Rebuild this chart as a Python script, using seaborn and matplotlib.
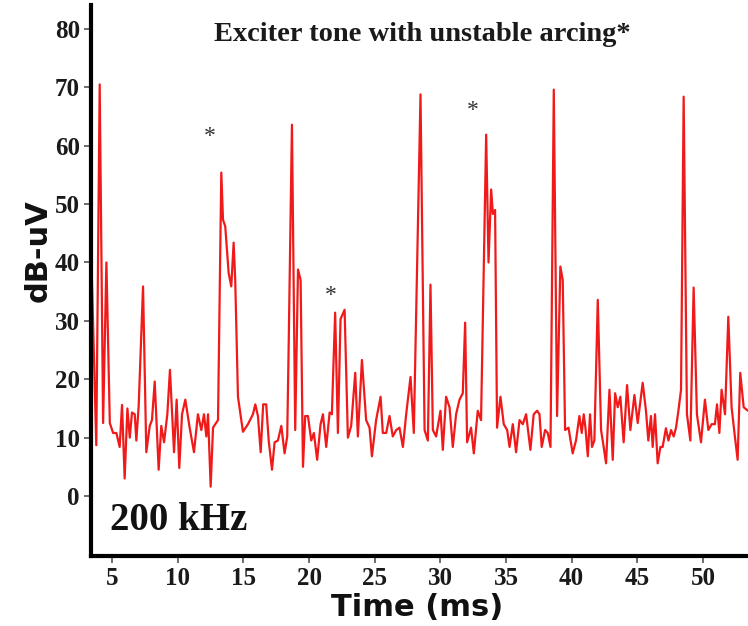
import matplotlib
matplotlib.use("Agg")
import matplotlib.pyplot as plt
import seaborn as sns
import pandas as pd

# Received level of the 200 kHz channel over time
time_ms = [
    3.40, 3.80, 4.06, 4.32, 4.57, 4.83, 5.08, 5.33, 5.58, 5.76, 5.96, 6.17, 6.35, 6.52,
    6.73, 6.85, 7.03, 7.36, 7.61, 7.87, 8.04, 8.25, 8.55, 8.75, 8.96, 9.21, 9.41, 9.72,
    9.92, 10.12, 10.33, 10.58, 10.91, 11.24, 11.54, 11.80, 12.00, 12.18, 12.31, 12.51,
    12.69, 12.86, 13.07, 13.32, 13.45, 13.62, 13.88, 14.08, 14.26, 14.38, 14.59, 14.97,
    15.35, 15.73, 15.91, 16.11, 16.32, 16.51, 16.74, 16.93, 17.18, 17.38, 17.63, 17.89,
    18.14, 18.34, 18.45, 18.70, 18.95, 19.16, 19.36, 19.54, 19.71, 19.92, 20.17, 20.37,
    20.62, 20.88, 21.06, 21.31, 21.57, 21.74, 21.99, 22.20, 22.40, 22.71, 22.96, 23.21,
    23.52, 23.72, 24.03, 24.35, 24.61, 24.79, 25.11, 25.45, 25.62, 25.88, 26.13, 26.38,
    26.64, 26.89, 27.15, 27.40, 27.73, 27.98, 28.49, 28.80, 29.05, 29.25, 29.43, 29.68,
    30.01, 30.19, 30.44, 30.70, 30.95, 31.20, 31.46, 31.71, 31.89, 32.04, 32.34, 32.55,
    32.85, 33.10, 33.49, 33.67, 33.87, 34.00, 34.17, 34.32, 34.58, 34.83, 35.09, 35.27,
    35.52, 35.77, 36.03, 36.28, 36.53, 36.86, 37.11, 37.37, 37.55, 37.72, 37.98, 38.18,
    38.39, 38.64, 38.89, 39.14, 39.32, 39.50, 39.76, 40.08, 40.33, 40.59, 40.77, 40.92,
    41.05, 41.23, 41.40, 41.55, 41.73, 41.99, 42.24, 42.44, 42.62, 42.88, 43.13, 43.31,
    43.51, 43.71, 43.96, 44.22, 44.47, 44.78, 45.03, 45.41, 45.66, 45.84, 46.04, 46.17,
    46.35, 46.55, 46.76, 46.93, 47.18, 47.37, 47.57, 47.77, 47.95, 48.13, 48.33, 48.53,
    48.78, 49.04, 49.29, 49.54, 49.85, 50.15, 50.41, 50.66, 50.91, 51.07, 51.25, 51.42,
    51.68, 51.93, 52.18, 52.43, 52.64, 52.84, 53.10, 53.43,
]
level_dbuv = [
    43.0, 8.7, 70.5, 12.5, 40.0, 12.5, 10.8, 10.8, 8.4, 15.6, 3.0, 15.0, 10.0, 14.3,
    14.0, 9.5, 15.5, 35.9, 7.5, 12.0, 13.0, 19.6, 4.5, 12.0, 9.2, 14.0, 21.6, 7.5,
    16.5, 4.8, 14.0, 16.5, 11.7, 7.5, 14.0, 11.3, 14.0, 10.2, 14.0, 1.6,
    11.7, 12.3, 13.0, 55.4, 47.3, 46.2, 38.2, 35.9, 43.4, 37.0, 17.0, 11.0,
    12.3, 14.0, 15.7, 13.7, 7.5, 15.7, 15.7, 9.5, 4.5, 9.2, 9.5, 12.0,
    7.3, 10.2, 25.6, 63.6, 11.3, 38.8, 37.0, 5.0, 13.7, 13.7, 9.5, 10.8,
    6.2, 12.3, 14.0, 8.4, 14.3, 14.0, 31.4, 10.8, 30.3, 31.9, 10.0, 12.0,
    21.1, 10.2, 23.3, 13.0, 11.7, 6.8, 13.0, 17.0, 10.8, 10.8, 13.7, 10.2,
    11.3, 11.7, 8.4, 14.0, 20.4, 10.8, 68.8, 11.3, 9.5, 36.2, 11.3, 10.2,
    14.6, 7.9, 17.0, 15.2, 8.4, 14.0, 16.5, 17.6, 29.7, 9.2, 11.7, 7.3,
    14.6, 13.0, 61.9, 40.0, 52.5, 48.3, 49.0, 11.7, 17.0, 12.3, 11.3, 8.4,
    12.3, 7.5, 13.0, 12.3, 14.0, 7.9, 14.0, 14.6, 14.0, 8.4, 11.3, 10.8,
    8.4, 69.6, 13.7, 39.3, 37.0, 11.3, 11.7, 7.3, 9.5, 13.7, 10.8, 14.0,
    11.7, 6.8, 14.0, 8.4, 9.5, 33.6, 11.3, 8.4, 5.6, 18.2, 6.2, 17.6,
    15.2, 17.0, 9.2, 19.0, 11.3, 17.3, 12.5, 19.4, 14.6, 9.5, 13.7, 8.4,
    14.0, 5.6, 8.4, 8.4, 11.6, 9.5, 11.3, 10.2, 11.7, 14.6, 18.2, 68.4,
    14.0, 9.5, 35.7, 14.0, 9.2, 16.5, 11.3, 12.3, 12.3, 15.7, 10.8, 18.2,
    14.0, 30.7, 15.2, 10.2, 6.2, 21.1, 15.2, 14.6,
]

# Arcing events flagged with an asterisk
arc_time_ms = [12.46, 21.68, 32.49]
arc_level_dbuv = [61.5, 34.4, 66.1]

x_ticks = [5, 10, 15, 20, 25, 30, 35, 40, 45, 50]
y_ticks = [0, 10, 20, 30, 40, 50, 60, 70, 80]

title_text = "Exciter tone with unstable arcing*"
freq_text = "200 kHz"

sns.set_style("ticks")
serif = ["Liberation Serif", "DejaVu Serif"]

df = pd.DataFrame({"t": time_ms, "db": level_dbuv})

fig = plt.figure(figsize=(7.48, 6.26), dpi=100)
ax = fig.add_axes([0.1217, 0.1118, 0.8783, 0.8802])

sns.lineplot(data=df, x="t", y="db", ax=ax, color="#f01a1a", linewidth=1.6,
             estimator=None, sort=False)

ax.set_xlim(3.40, 53.43)
ax.set_ylim(-10.28, 84.1)
ax.set_xticks(x_ticks)
ax.set_yticks(y_ticks)

for side in ("top", "right"):
    ax.spines[side].set_visible(False)
for side in ("left", "bottom"):
    ax.spines[side].set_linewidth(3)
    ax.spines[side].set_color("black")

ax.tick_params(axis="both", direction="out", length=5, width=1.2, color="#555555",
               pad=3)
for lab in ax.get_xticklabels() + ax.get_yticklabels():
    lab.set_fontfamily(serif)
    lab.set_fontweight("bold")
    lab.set_fontsize(18)
    lab.set_color("#1a1a1a")

ax.set_xlabel("Time (ms)", fontsize=22, fontweight="bold", family="DejaVu Sans",
              color="#111111")
ax.set_ylabel("dB-uV", fontsize=22, fontweight="bold", family="DejaVu Sans",
              color="#111111")
ax.xaxis.set_label_coords(0.496, -0.068)
ax.yaxis.set_label_coords(-0.058, 0.555)

ax.text(0.504, 0.946, title_text, transform=ax.transAxes, ha="center", va="center",
        fontsize=20.5, fontweight="bold", family=serif, color="#1a1a1a")
ax.text(0.029, 0.065, freq_text, transform=ax.transAxes, ha="left", va="center",
        fontsize=28, fontweight="bold", family=serif, color="#111111")

for xt, yt in zip(arc_time_ms, arc_level_dbuv):
    ax.text(xt, yt, "*", ha="center", va="center", fontsize=17, family=serif,
            color="#333333")

fig.savefig("out.png", dpi=100)
